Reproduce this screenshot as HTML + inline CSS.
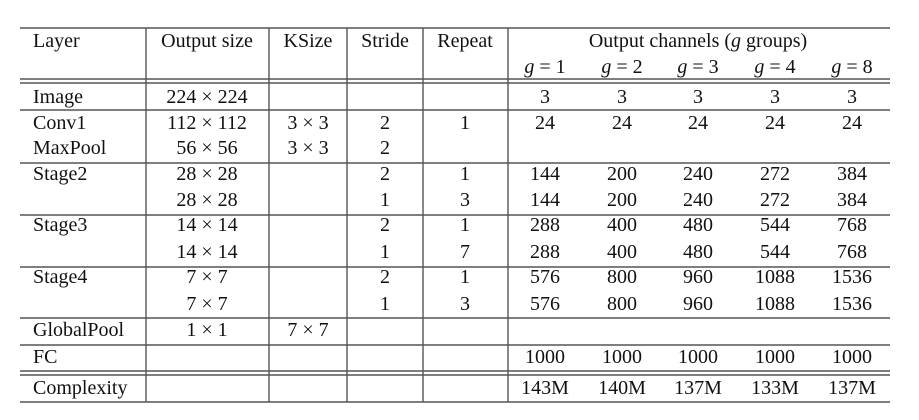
<!DOCTYPE html>
<html><head><meta charset="utf-8"><style>
html,body{margin:0;padding:0;background:#fff;width:919px;height:420px;overflow:hidden}
svg text{font-family:"Liberation Serif",serif;font-size:20px;fill:#111}
</style></head><body>
<svg width="919" height="420" xmlns="http://www.w3.org/2000/svg">
<g id="lines" stroke="#555" stroke-width="1.4"></g>
<g id="txt"></g>
</svg>
<script>
const hLines=[28,79,83,110,163,215,267,318,345,371,375,402];
const vLines=[146,269,347,423,508];
const L=20,R=890;
const lg=document.getElementById('lines');
const NS='http://www.w3.org/2000/svg';
hLines.forEach(y=>{const l=document.createElementNS(NS,'line');
l.setAttribute('x1',L);l.setAttribute('x2',R);l.setAttribute('y1',y);l.setAttribute('y2',y);


lg.appendChild(l);});
vLines.forEach(x=>{const l=document.createElementNS(NS,'line');
l.setAttribute('x1',x);l.setAttribute('x2',x);l.setAttribute('y1',28);l.setAttribute('y2',402);


lg.appendChild(l);});
const tg=document.getElementById('txt');
function t(x,y,s,anchor,html){const e=document.createElementNS(NS,'text');
e.setAttribute('x',x);e.setAttribute('y',y);e.setAttribute('dominant-baseline','central');
e.setAttribute('text-anchor',anchor||'middle');
if(html)e.innerHTML=s;else e.textContent=s;


tg.appendChild(e);}
const colX=[33,207,308,385,465,545,622,698,775,852];
t(33,41,'Layer','start');t(207,41,'Output size');t(308,41,'KSize');t(385,41,'Stride');t(465,41,'Repeat');
t(698,41,'Output channels (<tspan font-style="italic">g</tspan> groups)','middle',true);
[1,2,3,4,8].forEach((g,i)=>t(colX[5+i],67,'<tspan font-style="italic">g</tspan>\u2005=\u2005'+g,'middle',true));
const X='\u2005×\u2005';
const rows=[
[97,'Image','224'+X+'224','','','','3','3','3','3','3'],
[123,'Conv1','112'+X+'112','3'+X+'3','2','1','24','24','24','24','24'],
[148,'MaxPool','56'+X+'56','3'+X+'3','2','','','','','',''],
[174,'Stage2','28'+X+'28','','2','1','144','200','240','272','384'],
[200,'','28'+X+'28','','1','3','144','200','240','272','384'],
[225,'Stage3','14'+X+'14','','2','1','288','400','480','544','768'],
[252,'','14'+X+'14','','1','7','288','400','480','544','768'],
[277,'Stage4','7'+X+'7','','2','1','576','800','960','1088','1536'],
[304,'','7'+X+'7','','1','3','576','800','960','1088','1536'],
[330,'GlobalPool','1'+X+'1','7'+X+'7','','','','','','',''],
[357,'FC','','','','','1000','1000','1000','1000','1000'],
[388,'Complexity','','','','','143M','140M','137M','133M','137M']];
rows.forEach(r=>{for(let c=1;c<r.length;c++){if(r[c]!=='')t(colX[c-1],r[0],r[c],c===1?'start':'middle');}});
</script>
</body></html>
